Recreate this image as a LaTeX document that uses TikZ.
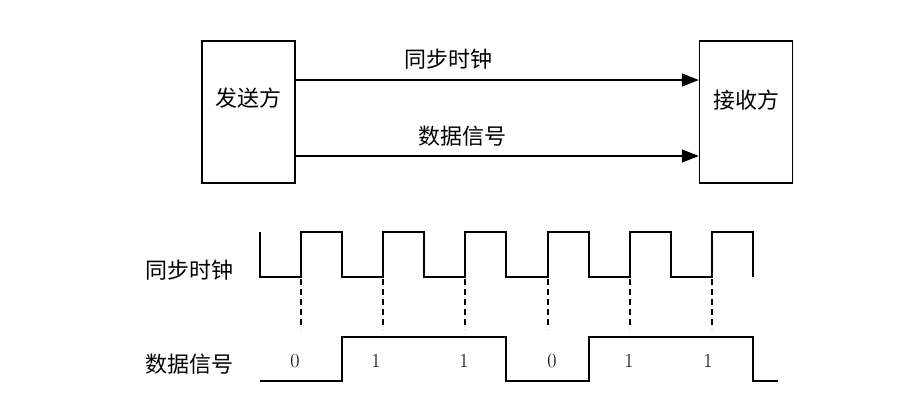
\documentclass[tikz,border=0pt]{standalone}
\usepackage{fontspec}
\newfontfamily\cjk{Noto Sans CJK SC}
\usetikzlibrary{arrows.meta}
\begin{document}
\begin{tikzpicture}[x=1pt,y=-1pt,
  line width=1.4pt,
  party/.style={draw, minimum width=93pt, minimum height=142pt, inner sep=0pt},
  lbl/.style={font=\cjk\fontsize{22}{26}\selectfont, inner sep=0pt},
  bit/.style={font=\fontsize{20}{24}\selectfont, inner sep=0pt},
  sig/.style={-{Triangle[length=17pt,width=13pt]}},
  tick/.style={dash pattern=on 6pt off 4pt, line width=1.1pt}]
\useasboundingbox (0,0) rectangle (909,405);
% top block diagram
\node[party] (tx) at (248.5,112) {};
\node[party] (rx) at (746,112) {};
\node[lbl] (txt) at (248.5,98) {发送方};
\node[lbl] (rxt) at (746,100) {接收方};
\draw[sig] ([yshift=32pt]tx.east) -- ([yshift=32pt]rx.west);
\draw[sig] ([yshift=-44pt]tx.east) -- ([yshift=-44pt]rx.west);
\node[lbl] (clklbl) at (448,59) {同步时钟};
\node[lbl] (datlbl) at (462,136) {数据信号};
% timing diagram
\node[lbl] (clkname) at (189,270) {同步时钟};
\node[lbl] (datname) at (189,364) {数据信号};
\draw (260,232) -- (260,277) -- (301,277) -- (301,232) -- (342,232) -- (342,277)
  -- (383,277) -- (383,232) -- (424,232) -- (424,277) -- (465,277) -- (465,232)
  -- (506,232) -- (506,277) -- (548,277) -- (548,232) -- (589,232) -- (589,277)
  -- (630,277) -- (630,232) -- (671,232) -- (671,277) -- (712,277) -- (712,232)
  -- (753,232) -- (753,277);
\draw (260,381) -- (342,381) -- (342,337) -- (506,337) -- (506,381) -- (589,381)
  -- (589,337) -- (753,337) -- (753,381) -- (778,381);
\foreach \x in {301,383,465,548,630,712} \draw[tick] (\x,279) -- (\x,329);
\node[bit] (b1) at (295,361) {0};
\node[bit] (b2) at (376,361) {1};
\node[bit] (b3) at (464,361) {1};
\node[bit] (b4) at (552,361) {0};
\node[bit] (b5) at (629,361) {1};
\node[bit] (b6) at (708,361) {1};
\end{tikzpicture}
\end{document}
